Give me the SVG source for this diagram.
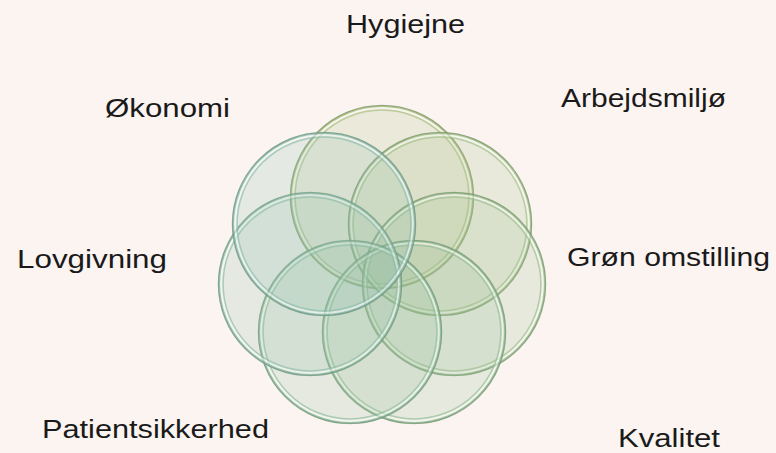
<svg xmlns="http://www.w3.org/2000/svg" width="776" height="453" viewBox="0 0 776 453">
<style>
  .bg{fill:#fbf4f1}
  .fill{fill:currentColor;fill-opacity:0.20}
  .outer{fill:none;stroke:currentColor;stroke-opacity:0.85;stroke-width:2.2}
  .shade{fill:none;stroke:#3a5540;stroke-opacity:0.30;stroke-width:1.3}
  .hi{fill:none;stroke:#ffffff;stroke-opacity:0.55;stroke-width:1.8}
  .inner{fill:none;stroke:currentColor;stroke-opacity:0.7;stroke-width:1.5}
  .lbl{font-family:"Liberation Sans",Arial,sans-serif;font-size:26px;fill:#1a1a1a}
</style>
<defs>
  <g id="petal">
    <circle r="91" class="fill"/>
    <circle r="91" class="outer"/>
    <circle r="91.6" class="shade"/>
    <circle r="88.8" class="hi"/>
    <circle r="86.9" class="inner"/>
  </g>
</defs>
<rect class="bg" x="0" y="0" width="776" height="453"/>
<g id="hygiejne" style="color:#abbf80">
  <use href="#petal" x="382" y="197"/>
  <text class="lbl" x="346" y="33" textLength="119" lengthAdjust="spacingAndGlyphs">Hygiejne</text>
</g>
<g id="arbejdsmiljo" style="color:#a3c088">
  <use href="#petal" x="440" y="224"/>
  <text class="lbl" x="561" y="107" textLength="165" lengthAdjust="spacingAndGlyphs">Arbejdsmiljø</text>
</g>
<g id="groen-omstilling" style="color:#9dbf8e">
  <use href="#petal" x="454" y="284"/>
  <text class="lbl" x="567" y="266" textLength="203" lengthAdjust="spacingAndGlyphs">Grøn omstilling</text>
</g>
<g id="kvalitet" style="color:#96be95">
  <use href="#petal" x="414" y="332"/>
  <text class="lbl" x="618" y="447" textLength="102" lengthAdjust="spacingAndGlyphs">Kvalitet</text>
</g>
<g id="patientsikkerhed" style="color:#92be9d">
  <use href="#petal" x="350" y="332"/>
  <text class="lbl" x="42" y="438" textLength="227" lengthAdjust="spacingAndGlyphs">Patientsikkerhed</text>
</g>
<g id="lovgivning" style="color:#90bea6">
  <use href="#petal" x="310" y="284"/>
  <text class="lbl" x="17" y="268" textLength="150" lengthAdjust="spacingAndGlyphs">Lovgivning</text>
</g>
<g id="okonomi" style="color:#8ebdae">
  <use href="#petal" x="324" y="224"/>
  <text class="lbl" x="105" y="117" textLength="125" lengthAdjust="spacingAndGlyphs">Økonomi</text>
</g>
<g id="connectors"></g>
</svg>
